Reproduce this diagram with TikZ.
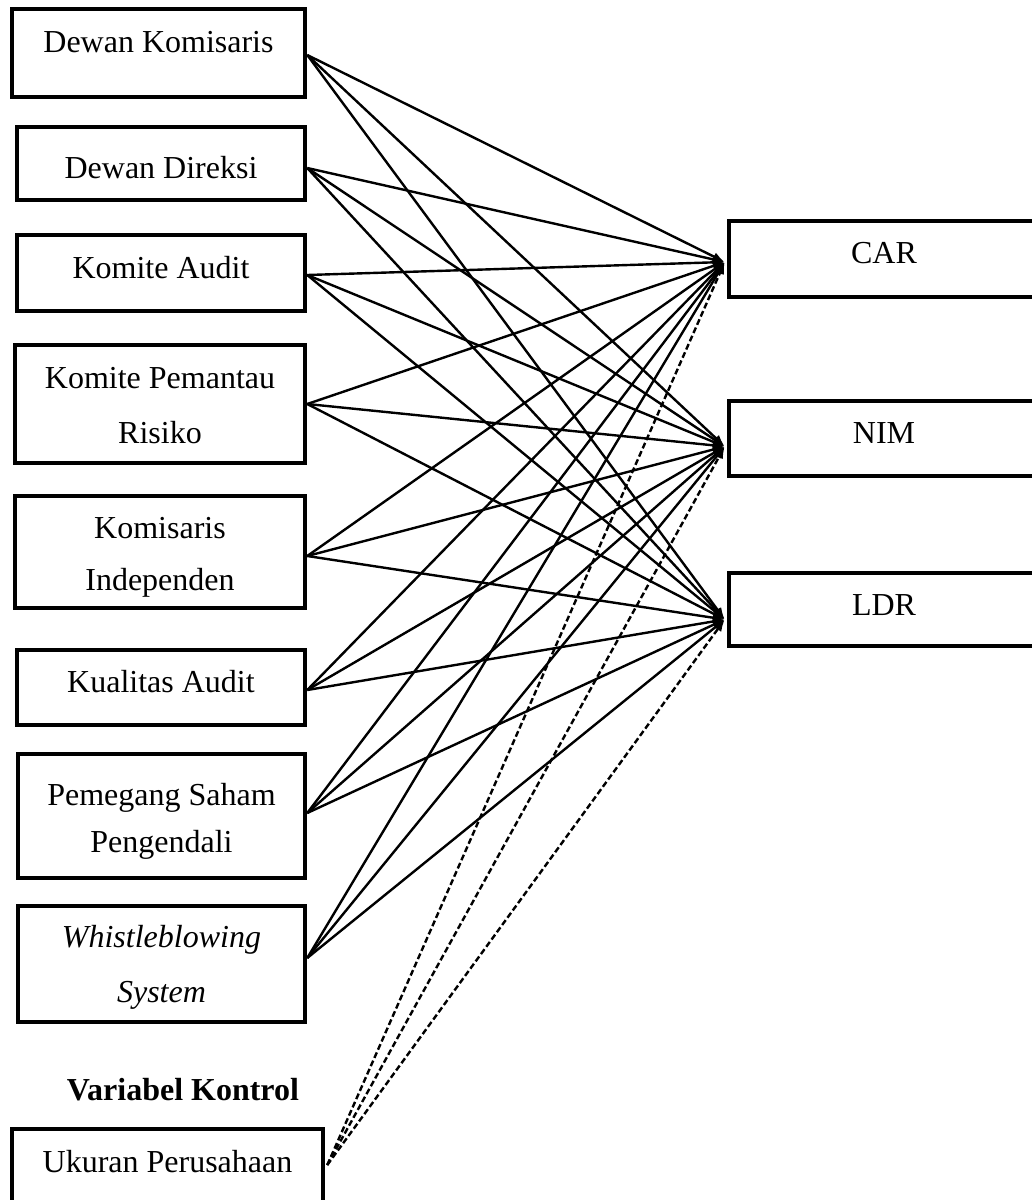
\documentclass[tikz,border=0pt]{standalone}
\usepackage{fontspec}
\setmainfont{Liberation Serif}
\usetikzlibrary{fit,calc,arrows.meta}
\begin{document}
\begin{tikzpicture}[x=1pt,y=-1pt,
  box/.style={draw,line width=4.5pt,inner sep=0pt,rectangle},
  lbl/.style={anchor=base,inner sep=0pt,font=\fontsize{32}{38}\selectfont},
  arr/.style={line width=2.4pt,-{Latex[length=12pt,width=9pt]}},
  darr/.style={arr,dash pattern=on 6pt off 3pt}]
\useasboundingbox (0,0) rectangle (1032,1200);
\clip (0,0) rectangle (1032,1200);
% left boxes
\node[box,fit={(12,9) (305,97)}] (dk) {};
\node[box,fit={(17,127) (305,200)}] (dd) {};
\node[box,fit={(17,235) (305,311)}] (ka) {};
\node[box,fit={(15,345) (305,463)}] (kpr) {};
\node[box,fit={(15,496) (305,608)}] (ki) {};
\node[box,fit={(17,650) (305,725)}] (kua) {};
\node[box,fit={(18,754) (305,878)}] (ps) {};
\node[box,fit={(18,906) (305,1022)}] (ws) {};
\node[box,fit={(12,1129) (323,1205)}] (uk) {};
% right boxes
\node[box,fit={(729,221) (1045,297)}] (car) {};
\node[box,fit={(729,401) (1045,476)}] (nim) {};
\node[box,fit={(729,573) (1045,646)}] (ldr) {};
% labels
\node[lbl] (t1) at (158.5,52) {Dewan Komisaris};
\node[lbl] (t2) at (161,178) {Dewan Direksi};
\node[lbl] (t3) at (161,278) {Komite Audit};
\node[lbl] (t4a) at (160,388) {Komite Pemantau};
\node[lbl] (t4b) at (160,443) {Risiko};
\node[lbl] (t5a) at (160,538) {Komisaris};
\node[lbl] (t5b) at (160,590) {Independen};
\node[lbl] (t6) at (161,692) {Kualitas Audit};
\node[lbl] (t7a) at (161.5,805) {Pemegang Saham};
\node[lbl] (t7b) at (161.5,852) {Pengendali};
\node[lbl] (t8a) at (161.5,947) {\itshape Whistleblowing};
\node[lbl] (t8b) at (161.5,1002) {\itshape System};
\node[lbl] (vk) at (183,1100) {\bfseries Variabel Kontrol};
\node[lbl] (t9) at (167.5,1172) {Ukuran Perusahaan};
\node[lbl] (tc) at (884,263) {CAR};
\node[lbl] (tn) at (884,443) {NIM};
\node[lbl] (tl) at (884,615) {LDR};
% target points
\coordinate (cin) at ($(car.west)+(-2,3)$);
\coordinate (nin) at ($(nim.west)+(-2,8)$);
\coordinate (lin) at ($(ldr.west)+(-2,10)$);
% connectors
\foreach \s/\dy in {dk/2,dd/4.5,ka/2,kpr/0,ki/4,kua/2.5,ps/-3,ws/-6}{
  \foreach \t in {cin,nin,lin}{
    \draw[arr] ($(\s.east)+(0,\dy)$) -- (\t);
  }
}
\foreach \t in {cin,nin,lin}{
  \draw[darr] ($(uk.east)+(2,-2)$) -- (\t);
}
\end{tikzpicture}
\end{document}
